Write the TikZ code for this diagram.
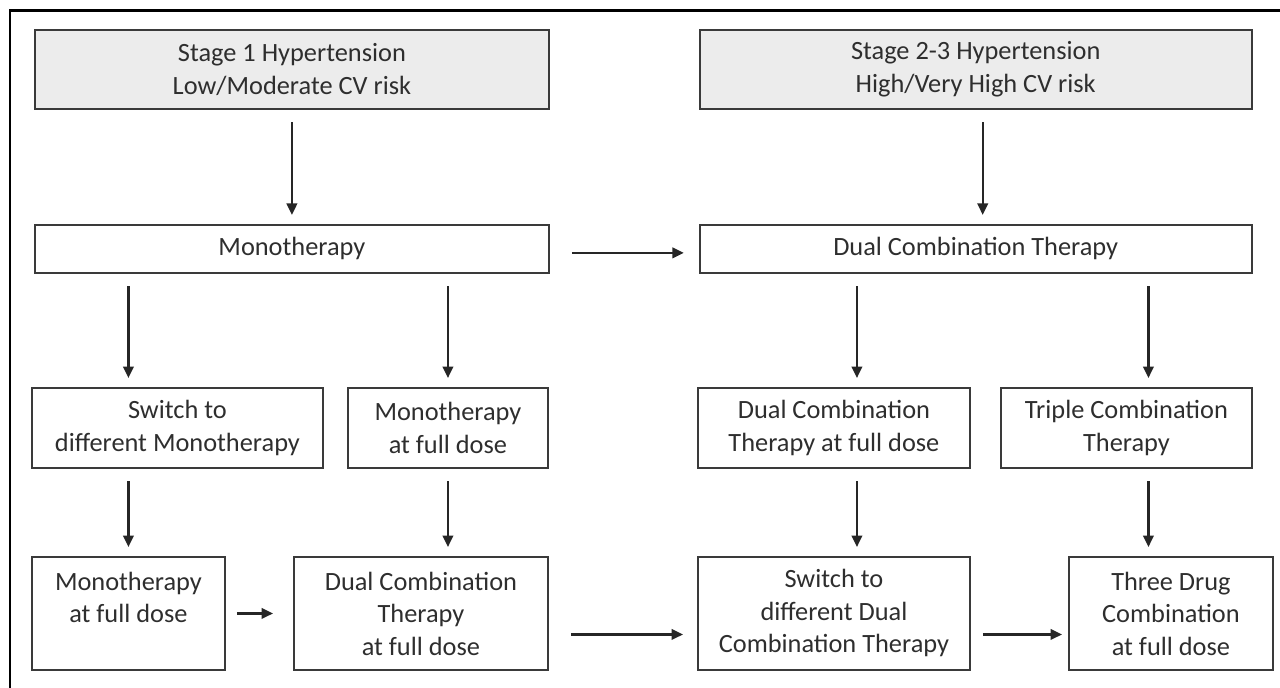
\documentclass[tikz,border=0pt]{standalone}
\usepackage{fontspec}
\setmainfont{Carlito}
\usetikzlibrary{arrows.meta,calc,positioning}
\definecolor{Ink}{HTML}{2E2E2E}
\definecolor{Edge}{HTML}{3A3A3A}
\definecolor{Shade}{HTML}{ECECEC}

\begin{document}
\begin{tikzpicture}[x=0.02cm, y=-0.02cm,
    box/.style={draw=Edge, line width=1.1pt, inner sep=0pt, align=center, text=Ink, font=\fontsize{15}{18.5}\selectfont},
    head/.style={box, fill=Shade, minimum height=1.58cm},
    arr/.style={-{Triangle[length=6.5pt,width=6pt]}, line width=1.2pt, draw=black!85, shorten <=0.25cm, shorten >=0.18cm}]

    \useasboundingbox (0,0) rectangle (1280,688);
    \draw[line width=1.7pt] (10,688) -- (10,11) -- (1280,11);

    % entry points
    \node[head, minimum width=10.28cm, anchor=north west] (s1) at (34,29) {Stage 1 Hypertension\\Low/Moderate CV risk};
    \node[head, minimum width=11.04cm, right=2.98cm of s1] (s2) {Stage 2-3 Hypertension\\High/Very High CV risk};
    \node[box, minimum width=10.28cm, minimum height=0.96cm, below=2.28cm of s1] (mono) {Monotherapy};
    \node[box, minimum width=11.04cm, minimum height=0.96cm, below=2.28cm of s2] (dual) {Dual Combination Therapy};

    % second step
    \node[box, minimum width=5.82cm, minimum height=1.6cm, anchor=north west] (sw) at (31,387) {Switch to\\different Monotherapy};
    \node[box, minimum width=4.0cm, minimum height=1.6cm, anchor=north west] (mfd) at (347,387) {Monotherapy\\at full dose};
    \node[box, minimum width=5.44cm, minimum height=1.6cm, anchor=north west] (dfd) at (697,387) {Dual Combination\\Therapy at full dose};
    \node[box, minimum width=5.02cm, minimum height=1.6cm, anchor=north west] (tri) at (1000,387) {Triple Combination\\Therapy};

    % third step
    \node[box, minimum width=3.86cm, minimum height=2.26cm, anchor=north west] (mfd2) at (31,556) {Monotherapy\\at full dose\\\mbox{}};
    \node[box, minimum width=5.08cm, minimum height=2.26cm, anchor=north west] (dfd2) at (293,556) {Dual Combination\\Therapy\\at full dose};
    \node[box, minimum width=5.44cm, minimum height=2.26cm, anchor=north west] (sdd) at (697,556) {Switch to\\different Dual\\Combination Therapy};
    \node[box, minimum width=4.08cm, minimum height=2.26cm, anchor=north west] (three) at (1068,556) {Three Drug\\Combination\\at full dose};

    \draw[arr] (s1.south) -- (mono.north);
    \draw[arr] ($(s2.south)+(7,0)$) -- ($(dual.north)+(7,0)$);
    \draw[arr, shorten <=0.44cm, shorten >=0.3cm] ($(mono.east)+(0,4)$) -- ($(dual.west)+(0,4)$);

    \draw[arr] (mono.south -| mfd2) -- (sw.north -| mfd2);
    \draw[arr] (mono.south -| mfd) -- (mfd.north);
    \draw[arr] ($(dual.south -| dfd)+(23,0)$) -- ($(dfd.north)+(23,0)$);
    \draw[arr] ($(dual.south -| tri)+(22,0)$) -- ($(tri.north)+(22,0)$);

    \draw[arr] (sw.south -| mfd2) -- (mfd2.north);
    \draw[arr] (mfd.south) -- (dfd2.north -| mfd);
    \draw[arr] ($(dfd.south)+(23,0)$) -- ($(sdd.north -| dfd)+(23,0)$);
    \draw[arr] ($(tri.south)+(22,0)$) -- ($(three.north -| tri)+(22,0)$);

    \draw[arr, shorten <=0.22cm, shorten >=0.4cm] (mfd2.east) -- (dfd2.west);
    \draw[arr, shorten <=0.44cm, shorten >=0.28cm] ($(dfd2.east)+(0,21)$) -- ($(sdd.west)+(0,21)$);
    \draw[arr, shorten <=0.24cm, shorten >=0.12cm] ($(sdd.east)+(0,21)$) -- ($(three.west)+(0,21)$);
  \end{tikzpicture}
\end{document}
